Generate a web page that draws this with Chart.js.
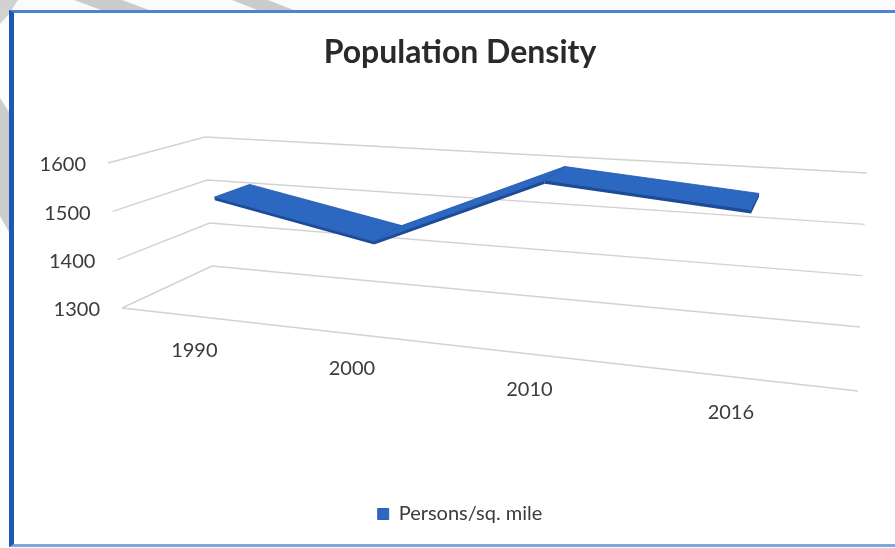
<!DOCTYPE html>
<html lang="en">
<head>
  <meta charset="UTF-8">
  <title>Population Density</title>
  <style>
    body {
      margin: 0;
      background: #fbfbfb;
      overflow: hidden;
    }
    .page {
      position: relative;
      width: 895px;
      height: 548px;
    }
    .stripes {
      position: absolute;
      left: 0;
      top: 0;
    }
    .frame {
      position: absolute;
      left: 9px;
      top: 10px;
      width: 900px;
      height: 531px;
      background: #ffffff;
      border-left: 5px solid #1d57b8;
      border-top: 3px solid #4a85d2;
      border-bottom: 3px solid #7ba7dc;
    }
    .chart-box {
      position: absolute;
      left: 0;
      top: 0;
      width: 895px;
      height: 548px;
    }
  </style>
</head>
<body>
  <div class="page">
    <svg class="stripes" width="895" height="548">
      <polygon points="74,0 122,0 152,11 104,11" fill="#cbcbcb"/>
      <polygon points="232,0 268,0 296,11 260,11" fill="#cbcbcb"/>
      <polygon points="0,0 18,0 9,14 0,24" fill="#d2d2d2"/>
      <polygon points="0,98 9,112 9,232 0,216" fill="#cdcdcd"/>
    </svg>
    <div class="frame"></div>
    <div class="chart-box">
      <canvas id="densityChart"></canvas>
    </div>
  </div>

  <script src="https://cdn.jsdelivr.net/npm/chart.js"></script>
  <script>
    // Persons per square mile by year
    const years = ['1990', '2000', '2010', '2016'];
    const density = [1520, 1455, 1600, 1570];
    const yTicks = [1300, 1400, 1500, 1600];

    // Corners of the 3D box at the lowest and highest gridline:
    // front-left, front-right, back-right, back-left
    const floorQuad = [[122, 308], [858, 391], [860, 327], [212, 266]];
    const topQuad = [[108, 163], [866, 215], [867, 173], [205, 137]];

    // map (u, v) in the unit square onto a quad with a projective transform
    function quadMap(q, u, v) {
      const [[x0, y0], [x1, y1], [x2, y2], [x3, y3]] = q;
      const dx1 = x1 - x2, dx2 = x3 - x2, dx3 = x0 - x1 + x2 - x3;
      const dy1 = y1 - y2, dy2 = y3 - y2, dy3 = y0 - y1 + y2 - y3;
      const den = dx1 * dy2 - dx2 * dy1;
      const g = (dx3 * dy2 - dx2 * dy3) / den;
      const h = (dx1 * dy3 - dx3 * dy1) / den;
      const a = x1 - x0 + g * x1, b = x3 - x0 + h * x3;
      const d = y1 - y0 + g * y1, e = y3 - y0 + h * y3;
      const z = g * u + h * v + 1;
      return [(a * u + b * v + x0) / z, (d * u + e * v + y0) / z];
    }

    // u: across categories, t: value height (0..1), w: depth (0 front, 1 back)
    function project(u, t, w) {
      const q = floorQuad.map((p, i) => [
        p[0] + (topQuad[i][0] - p[0]) * t,
        p[1] + (topQuad[i][1] - p[1]) * t
      ]);
      return quadMap(q, u, w);
    }

    function poly(ctx, pts) {
      ctx.beginPath();
      ctx.moveTo(pts[0][0], pts[0][1]);
      for (let i = 1; i < pts.length; i++) ctx.lineTo(pts[i][0], pts[i][1]);
      ctx.closePath();
    }

    const labelFont = '20px Lato';
    const labelColor = '#3b3b3b';

    const perspective = {
      id: 'perspective',
      beforeDatasetsDraw(chart) {
        const { ctx, chartArea: a, scales: { x, y } } = chart;
        const tOf = v => (a.bottom - y.getPixelForValue(v)) / a.height;

        ctx.save();
        ctx.strokeStyle = '#d2d2d2';
        ctx.lineWidth = 1.4;
        // side wall + back wall gridlines
        y.ticks.forEach(tk => {
          const t = tOf(tk.value);
          const p0 = project(0, t, 0), p1 = project(0, t, 1), p2 = project(1, t, 1);
          ctx.beginPath();
          ctx.moveTo(p0[0], p0[1]);
          ctx.lineTo(p1[0], p1[1]);
          ctx.lineTo(p2[0], p2[1]);
          ctx.stroke();
        });
        // front edge of the floor
        const f0 = project(0, 0, 0), f1 = project(1, 0, 0);
        ctx.beginPath();
        ctx.moveTo(f0[0], f0[1]);
        ctx.lineTo(f1[0], f1[1]);
        ctx.stroke();

        ctx.fillStyle = labelColor;
        ctx.font = labelFont;
        ctx.textAlign = 'right';
        ctx.textBaseline = 'middle';
        y.ticks.forEach(tk => {
          const p = project(0, tOf(tk.value), 0);
          ctx.fillText(tk.label, p[0] - 22, p[1] + 2);
        });

        ctx.textAlign = 'center';
        years.forEach((yr, i) => {
          const u = (x.getPixelForValue(i) - a.left) / a.width;
          const p = project(u, 0, 0);
          ctx.fillText(yr, p[0] - 16 * u, p[1] + 34);
        });
        ctx.restore();
      },
      afterDatasetsDraw(chart) {
        const { ctx, chartArea: a } = chart;
        const pts = chart.getDatasetMeta(0).data.map(el => [
          (el.x - a.left) / a.width,
          (a.bottom - el.y) / a.height
        ]);
        const w0 = 0.3, w1 = 0.7, dt = 0.022;

        ctx.save();
        ctx.lineJoin = 'round';
        ctx.lineWidth = 0.8;
        for (let i = 0; i < pts.length - 1; i++) {
          const [ua, ta] = pts[i], [ub, tb] = pts[i + 1];
          // front face of the ribbon
          poly(ctx, [project(ua, ta, w0), project(ub, tb, w0), project(ub, tb - dt, w0), project(ua, ta - dt, w0)]);
          ctx.fillStyle = '#1c4c98';
          ctx.fill();
          // top face
          poly(ctx, [project(ua, ta, w0), project(ub, tb, w0), project(ub, tb, w1), project(ua, ta, w1)]);
          ctx.fillStyle = '#2c67c2';
          ctx.strokeStyle = '#2257ab';
          ctx.fill();
          ctx.stroke();
        }
        // right end cap
        const [ue, te] = pts[pts.length - 1];
        poly(ctx, [project(ue, te, w0), project(ue, te, w1), project(ue, te - dt, w1), project(ue, te - dt, w0)]);
        ctx.fillStyle = '#1c4c98';
        ctx.fill();
        ctx.restore();
      }
    };

    const ctx = document.getElementById('densityChart').getContext('2d');
    const densityChart = new Chart(ctx, {
      type: 'line',
      data: {
        labels: years,
        datasets: [{
          label: 'Persons/sq. mile',
          data: density,
          showLine: false,
          pointRadius: 0,
          pointHoverRadius: 0,
          backgroundColor: '#2c67c2',
          borderColor: '#2a62bb',
          borderWidth: 1
        }]
      },
      options: {
        responsive: true,
        maintainAspectRatio: false,
        animation: false,
        layout: {
          padding: { left: 62, right: 37, bottom: 14, top: 0 }
        },
        scales: {
          x: {
            offset: true,
            grid: { display: false },
            border: { display: false },
            ticks: { display: false },
            afterFit: s => { s.height = 182; }
          },
          y: {
            min: yTicks[0],
            max: yTicks[yTicks.length - 1],
            ticks: {
              display: false,
              stepSize: yTicks[1] - yTicks[0],
              callback: v => String(v)
            },
            grid: { display: false },
            border: { display: false },
            afterFit: s => { s.width = 60; }
          }
        },
        plugins: {
          title: {
            display: true,
            text: 'Population Density',
            color: '#2a2a2a',
            font: { family: 'Lato', size: 32, weight: 'bold' },
            padding: { top: 33, bottom: 91.6 }
          },
          legend: {
            position: 'bottom',
            labels: {
              color: labelColor,
              font: { family: 'Lato', size: 20 },
              boxWidth: 11,
              boxHeight: 11,
              padding: 10
            }
          },
          tooltip: { enabled: false }
        }
      },
      plugins: [perspective]
    });
  </script>
</body>
</html>
